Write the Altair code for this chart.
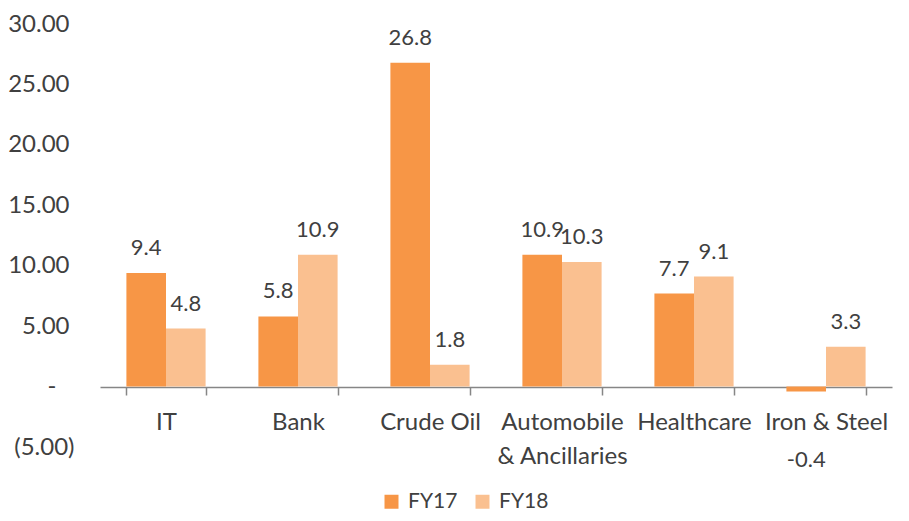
import altair as alt
import pandas as pd

categories = ["IT", "Bank", "Crude Oil", "Automobile & Ancillaries", "Healthcare", "Iron & Steel"]
fy17 = [9.4, 5.8, 26.8, 10.9, 7.7, -0.4]
fy18 = [4.8, 10.9, 1.8, 10.3, 9.1, 3.3]
series = ["FY17", "FY18"]
colors = ["#F79646", "#FAC090"]
y_ticks = [-5, 0, 5, 10, 15, 20, 25, 30]

rows = []
for c, a, b in zip(categories, fy17, fy18):
    rows.append({"category": c, "series": "FY17", "value": a})
    rows.append({"category": c, "series": "FY18", "value": b})
df = pd.DataFrame(rows)

FONT = "Lato"
TXT = "#404040"

x_enc = alt.X(
    "category:N",
    sort=categories,
    scale=alt.Scale(paddingInner=0.4, paddingOuter=0.2),
    axis=alt.Axis(
        title=None,
        labelAngle=0,
        labelFontSize=24,
        labelColor=TXT,
        labelFont=FONT,
        labelPadding=15,
        labelLineHeight=34,
        labelBaseline="top",
        labelExpr="datum.label == 'Automobile & Ancillaries' ? ['Automobile', '& Ancillaries'] : datum.label",
        domainColor="#868686",
        domainWidth=1.5,
        tickColor="#868686",
        tickWidth=1.5,
        tickSize=8,
        tickBand="extent",
        offset=-60,
        grid=False,
    ),
)

y_enc = alt.Y(
    "value:Q",
    scale=alt.Scale(domain=[-5, 30], nice=False, zero=False),
    axis=alt.Axis(
        title=None,
        values=y_ticks,
        grid=False,
        domain=False,
        ticks=False,
        tickSize=0,
        labelAlign="right",
        labelBaseline="middle",
        labelPadding={
            "condition": [
                {"test": "datum.value == 0", "value": 44},
                {"test": "datum.value < 0", "value": 26},
            ],
            "value": 31,
        },
        labelFontSize=24,
        labelColor=TXT,
        labelFont=FONT,
        labelExpr=(
            "datum.value > 0 ? format(datum.value, '.2f') : "
            "(datum.value < 0 ? '(' + format(-datum.value, '.2f') + ')' : '-')"
        ),
    ),
)

base = alt.Chart(df).transform_calculate(
    label="datum.value < 0 ? '-' + format(-datum.value, '.1f') : format(datum.value, '.1f')"
)

bars = base.mark_bar().encode(
    x=x_enc,
    xOffset=alt.XOffset("series:N", sort=series, scale=alt.Scale(paddingInner=0, paddingOuter=0)),
    y=y_enc,
    color=alt.Color(
        "series:N",
        sort=series,
        scale=alt.Scale(domain=series, range=colors),
        legend=alt.Legend(
            title=None,
            orient="none",
            direction="horizontal",
            legendX=281,
            legendY=467,
            symbolType="square",
            symbolSize=196,
            symbolStrokeWidth=0,
            labelFontSize=21,
            labelFont=FONT,
            labelColor=TXT,
            labelOffset=6,
            columnPadding=14,
            padding=0,
        ),
    ),
)

text_pos = base.transform_filter("datum.value >= 0").mark_text(
    fontSize=22, font=FONT, color=TXT, baseline="middle", dy=-25
).encode(
    x=alt.X("category:N", sort=categories),
    xOffset=alt.XOffset("series:N", sort=series),
    y=alt.Y("value:Q"),
    text=alt.Text("label:N"),
)

text_neg = base.transform_filter("datum.value < 0").mark_text(
    fontSize=22, font=FONT, color=TXT, baseline="middle", dy=69
).encode(
    x=alt.X("category:N", sort=categories),
    xOffset=alt.XOffset("series:N", sort=series),
    y=alt.Y("value:Q"),
    text=alt.Text("label:N"),
)

chart = alt.layer(bars, text_pos, text_neg).properties(
    width=792,
    height=423,
    autosize=alt.AutoSizeParams(type="none"),
    padding={"left": 92, "top": 16, "right": 9, "bottom": 66},
).configure(font=FONT).configure_view(stroke="transparent")

chart.save("out.html", embed_options={"renderer": "svg", "actions": False})
